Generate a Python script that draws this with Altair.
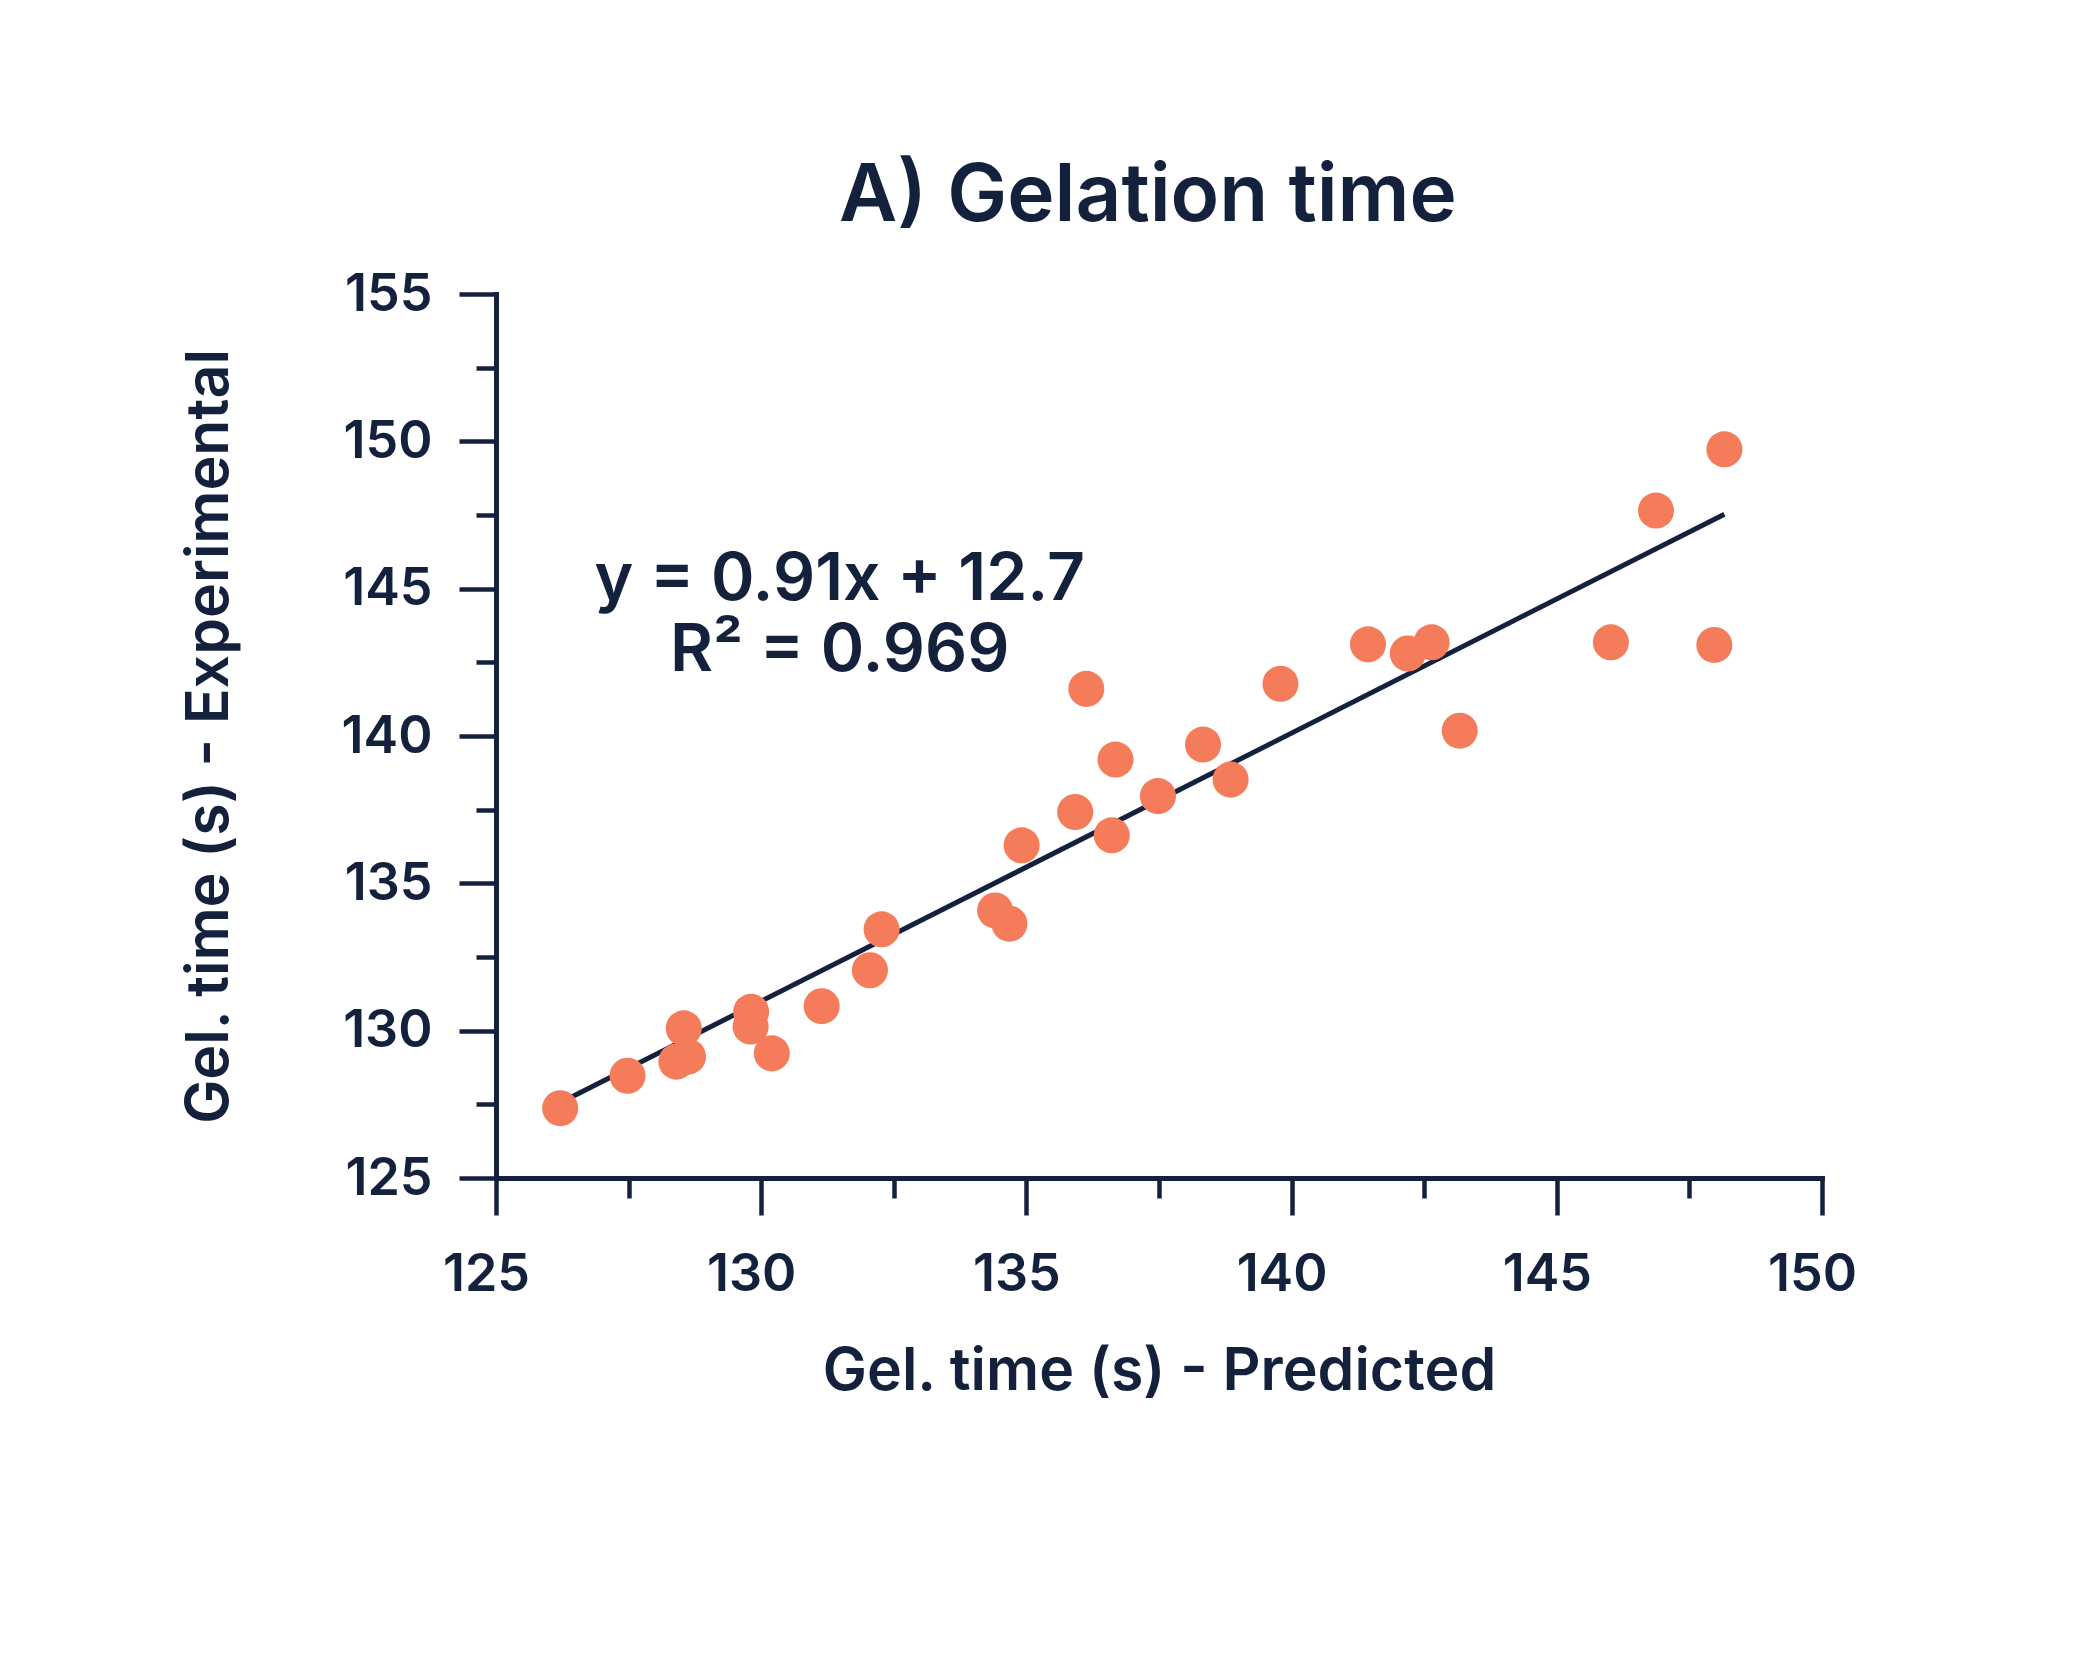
import altair as alt
import pandas as pd

# Values
predicted = [126.21, 127.48, 128.54, 128.40, 128.62, 129.81, 129.80, 130.20, 131.14,
             132.05, 132.27, 134.41, 134.68, 134.91, 135.92, 136.61, 136.13, 136.68,
             137.48, 138.33, 138.85, 139.79, 141.44, 142.19, 142.64, 143.17, 146.02,
             146.87, 147.97, 148.16]
experimental = [127.37, 128.47, 130.08, 128.95, 129.12, 130.64, 130.14, 129.23, 130.83,
                132.05, 133.44, 134.08, 133.63, 136.29, 137.42, 136.63, 141.60, 139.20,
                137.96, 139.71, 138.52, 141.77, 143.11, 142.80, 143.18, 140.18, 143.18,
                147.65, 143.09, 149.73]

slope = 0.91
intercept = 12.7
fit_x = [min(predicted), max(predicted)]
fit_y = [slope * v + intercept for v in fit_x]

equation_lines = ["y = 0.91x + 12.7", "R\u00b2 = 0.969"]
x_ticks = [125, 127.5, 130, 132.5, 135, 137.5, 140, 142.5, 145, 147.5, 150]
y_ticks = [125, 127.5, 130, 132.5, 135, 137.5, 140, 142.5, 145, 147.5, 150, 152.5, 155]

NAVY = "#14213D"
ORANGE = "#F47C5A"
FONT = "Inter"

points_df = pd.DataFrame({"pred": predicted, "exp": experimental})
fit_df = pd.DataFrame({"pred": fit_x, "exp": fit_y})

tick_size = {"condition": {"test": "datum.value % 5 === 0", "value": 37}, "value": 20}
label_expr = "datum.value % 5 === 0 ? datum.label : ''"

x_enc = alt.X(
    "pred:Q",
    scale=alt.Scale(domain=[125, 150], nice=False, zero=False),
    axis=alt.Axis(
        title="Gel. time (s) - Predicted",
        values=x_ticks,
        labelExpr=label_expr,
        tickSize=tick_size,
        labelPadding=34,
        labelOffset=-10,
        titlePadding=42,
    ),
)
y_enc = alt.Y(
    "exp:Q",
    scale=alt.Scale(domain=[125, 155], nice=False, zero=False),
    axis=alt.Axis(
        title="Gel. time (s) - Experimental",
        values=y_ticks,
        labelExpr=label_expr,
        tickSize=tick_size,
        labelPadding=27,
        titlePadding=102,
    ),
)

points = alt.Chart(points_df).mark_circle(size=1300, color=ORANGE, opacity=1).encode(
    x=x_enc, y=y_enc
)

fit_line = alt.Chart(fit_df).mark_line(color=NAVY, strokeWidth=5).encode(
    x="pred:Q", y="exp:Q"
)

annotation = alt.Chart(pd.DataFrame({"a": [0]})).mark_text(
    text=equation_lines,
    font=FONT,
    fontSize=66,
    fontWeight=600,
    color=NAVY,
    align="center",
    baseline="alphabetic",
    lineHeight=71,
).encode(x=alt.datum(131.48), y=alt.datum(144.63))

chart = (
    alt.layer(fit_line, points, annotation)
    .properties(
        width=1326,
        height=884,
        title=alt.TitleParams(
            "A) Gelation time",
            font=FONT,
            fontSize=80,
            fontWeight=600,
            color=NAVY,
            anchor="middle",
            frame="group",
            baseline="alphabetic",
            offset=71,
            dx=-11,
            dy=104,
        ),
        autosize=alt.AutoSizeParams(type="none"),
        padding={"left": 488, "top": 286, "right": 200, "bottom": 400},
    )
    .configure_view(stroke=None)
    .configure_axis(
        grid=False,
        domainColor=NAVY,
        domainWidth=5,
        tickColor=NAVY,
        tickWidth=4.5,
        labelFont=FONT,
        labelFontSize=52,
        labelFontWeight=600,
        labelColor=NAVY,
        titleFont=FONT,
        titleFontSize=59,
        titleFontWeight=600,
        titleColor=NAVY,
        labelFlush=False,
        labelOverlap=False,
        domainCap="square",
    )
)

chart.save("out.html", embed_options={"renderer": "svg", "actions": False})
